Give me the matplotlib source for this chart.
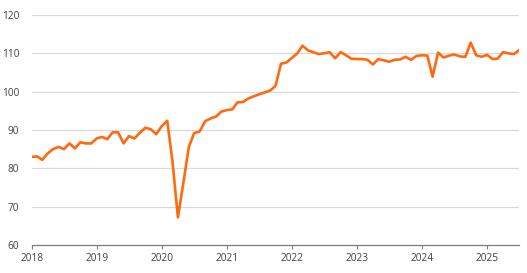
import pandas as pd
import matplotlib.pyplot as plt
import matplotlib.dates as mdates

# ========================================
# Datos mensuales (ene 2018 - jul 2025)
# ========================================
inicio = "2018-01-01"

v2018 = [83.0, 83.1, 82.2, 83.9, 85.0, 85.6, 85.0, 86.5, 85.2, 86.8, 86.5, 86.5]
v2019 = [87.8, 88.2, 87.6, 89.4, 89.4, 86.5, 88.4, 87.8, 89.3, 90.6, 90.2, 88.9]
v2020 = [91.0, 92.4, 82.0, 67.2, 76.0, 85.5, 89.2, 89.6, 92.3, 93.0, 93.5, 94.8]
v2021 = [95.2, 95.4, 97.2, 97.3, 98.2, 98.8, 99.3, 99.8, 100.3, 101.5, 107.3, 107.6]
v2022 = [108.8, 110.0, 112.0, 110.8, 110.3, 109.8, 110.0, 110.3, 108.7, 110.3, 109.5, 108.6]
v2023 = [108.5, 108.5, 108.3, 107.1, 108.5, 108.2, 107.8, 108.3, 108.4, 109.1, 108.3, 109.3]
v2024 = [109.5, 109.4, 103.9, 110.2, 108.9, 109.4, 109.7, 109.2, 109.1, 112.8, 109.5, 109.1]
v2025 = [109.6, 108.5, 108.6, 110.3, 110.0, 109.8, 110.9]

valores = v2018 + v2019 + v2020 + v2021 + v2022 + v2023 + v2024 + v2025
fechas = pd.date_range(inicio, periods=len(valores), freq="MS")

anios = [2018, 2019, 2020, 2021, 2022, 2023, 2024, 2025]
y_ticks = [60, 70, 80, 90, 100, 110, 120]

# ========================================
# Estilo
# ========================================
color_linea = "#FF6A10"
color_grid = "#D9D9D9"
color_eje = "#7F7F7F"
color_texto = "#404040"

plt.rcParams["font.family"] = ["Open Sans", "DejaVu Sans"]

fig = plt.figure(figsize=(5.27, 2.73), dpi=100)
ax = fig.add_axes([31.7 / 527, 1 - 245 / 273, (519.3 - 31.7) / 527, 230 / 273])

ax.plot(fechas, valores, color=color_linea, linewidth=1.9,
        solid_joinstyle="round", solid_capstyle="round", zorder=3)

ax.set_ylim(60, 120)
ax.set_yticks(y_ticks)
ax.set_xlim(fechas[0], fechas[-1])
ax.set_xticks([pd.Timestamp(f"{a}-01-01") for a in anios])
ax.xaxis.set_major_formatter(mdates.DateFormatter("%Y"))

ax.grid(axis="y", color=color_grid, linewidth=0.9)
ax.set_axisbelow(True)

for lado in ["top", "right", "left"]:
    ax.spines[lado].set_visible(False)
ax.spines["bottom"].set_color(color_eje)
ax.spines["bottom"].set_linewidth(0.9)

ax.tick_params(axis="y", length=0, pad=9, labelsize=7.3, labelcolor=color_texto)
ax.tick_params(axis="x", length=3, width=0.8, color=color_eje, pad=3,
               labelsize=7.3, labelcolor=color_texto)

fig.savefig("out.png", dpi=100)
